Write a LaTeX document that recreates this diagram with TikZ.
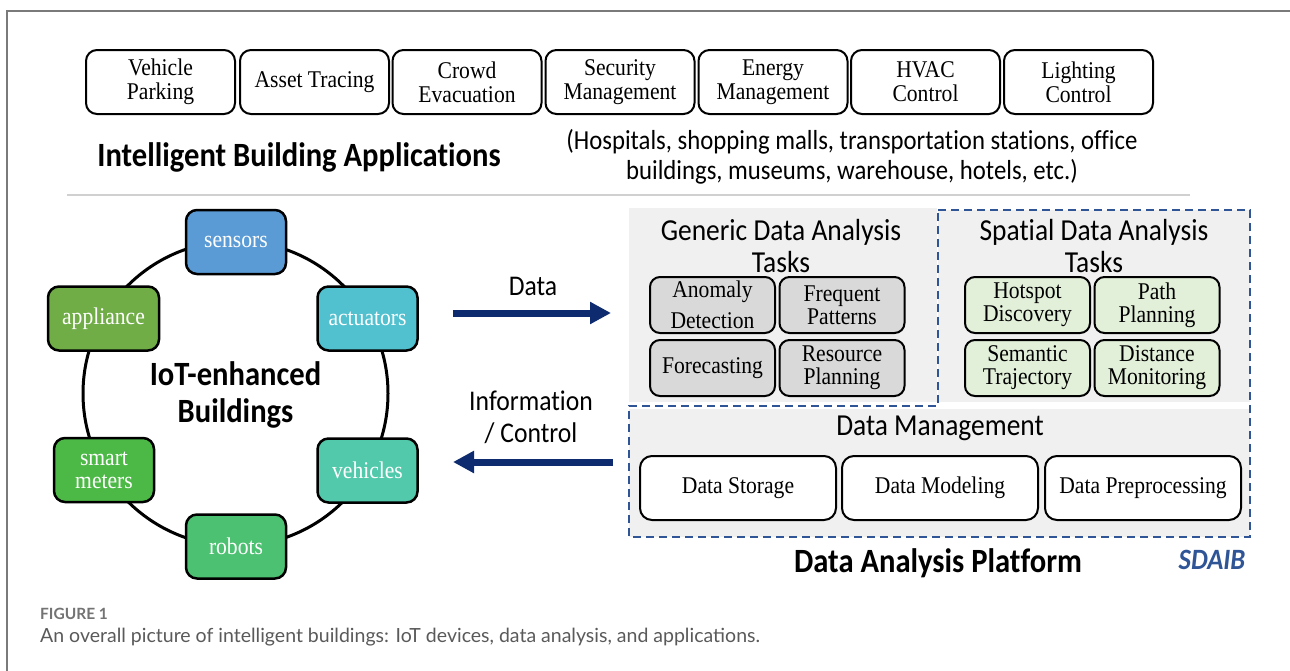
\documentclass[tikz,border=0pt]{standalone}
\usepackage{fontspec}
\setmainfont[FakeStretch=0.9]{Liberation Serif}
\newfontfamily\calib[Ligatures=NoCommon,FakeStretch=0.9]{Carlito}
\newfontfamily\capfont{Lato}
\usetikzlibrary{arrows.meta}

\definecolor{navy}{HTML}{0D2B6E}
\definecolor{dashblue}{HTML}{2F5597}
\definecolor{panel}{HTML}{F0F0F0}
\definecolor{taskgray}{HTML}{D9D9D9}
\definecolor{taskgreen}{HTML}{E2F0D9}
\definecolor{csensor}{HTML}{5B9BD5}
\definecolor{cactuator}{HTML}{52C1CF}
\definecolor{cvehicle}{HTML}{52C9AA}
\definecolor{crobot}{HTML}{4CC172}
\definecolor{csmart}{HTML}{4CB946}
\definecolor{cappliance}{HTML}{70AD47}
\definecolor{framegray}{HTML}{7A7A7A}
\definecolor{rulegray}{HTML}{D0D0D0}
\definecolor{captext}{HTML}{5A5A5A}

\tikzset{
  serif24/.style={font=\fontsize{24}{24}\selectfont},
  appbox/.style={draw, line width=2pt, rounded corners=11pt, fill=white,
    minimum width=149pt, minimum height=64pt, inner sep=0pt, align=center, serif24},
  devbox/.style={draw, line width=2.5pt, rounded corners=11pt, text=white,
    minimum width=100pt, minimum height=64pt, inner sep=0pt, align=center,
    font=\fontsize{24}{23}\selectfont},
  taskbox/.style={draw, line width=2pt, rounded corners=10pt,
    minimum width=125pt, minimum height=56pt, inner sep=0pt, align=center,
    font=\fontsize{24}{23}\selectfont},
  gtask/.style={taskbox, fill=taskgray},
  stask/.style={taskbox, fill=taskgreen},
  dmbox/.style={draw, line width=2pt, rounded corners=12pt, fill=white,
    minimum width=196pt, minimum height=64pt, inner sep=0pt, align=center, serif24},
  heading/.style={font=\calib\fontsize{30.5}{32}\selectfont, align=center, inner sep=0pt},
  bighead/.style={font=\calib\bfseries\fontsize{34}{37}\selectfont, align=center, inner sep=0pt},
  flowlabel/.style={font=\calib\fontsize{28.5}{32}\selectfont, align=center, inner sep=0pt},
  flow/.style={draw=navy, line width=7pt, -{Triangle[length=21pt,width=21pt]}},
  platformedge/.style={draw=dashblue, line width=2.5pt, dash pattern=on 8pt off 5pt},
}

\begin{document}
\begin{tikzpicture}[x=1pt,y=-1pt]
  \useasboundingbox (0,0) rectangle (1290,670);
  \fill[white] (0,0) rectangle (1290,670);

  % page frame
  \draw[framegray, line width=2pt] (1291,11) -- (7,11) -- (7,671);

  % application boxes
  \node[appbox] (parking)  at (160.5,82) {Vehicle\\Parking};
  \node[appbox] (asset)    at (314.5,82) {Asset Tracing};
  \node[appbox] (crowd)    at (467,82)   {Crowd\\Evacuation};
  \node[appbox] (security) at (620,82)   {Security\\Management};
  \node[appbox] (energy)   at (773,82)   {Energy\\Management};
  \node[appbox] (hvac)     at (925.5,82) {HVAC\\Control};
  \node[appbox] (lighting) at (1078.5,82){Lighting\\Control};

  \node[bighead] (apptitle) at (299,157) {Intelligent Building Applications};
  \node[font=\calib\fontsize{27.5}{30}\selectfont, align=center, inner sep=0pt] (venues) at (852,157)
    {(Hospitals, shopping malls, transportation stations, office\\buildings, museums, warehouse, hotels, etc.)};

  % separator
  \draw[rulegray, line width=2pt] (67,195) -- (1190,195);

  % IoT ring
  \coordinate (ringc) at (235.5,393.5);
  \draw[line width=3pt] (ringc) circle[radius=152.5pt];
  \node[devbox, fill=csensor]   (sensors)   at (236,242)   {sensors};
  \node[devbox, fill=cactuator] (actuators) at (367.5,318.5) {actuators};
  \node[devbox, fill=cvehicle]  (vehicles)  at (367.5,470.5) {vehicles};
  \node[devbox, fill=crobot]    (robots)    at (236,546.5)   {robots};
  \node[devbox, fill=csmart]    (smart)     at (104,470) {smart\\meters};
  \node[devbox, fill=cappliance, minimum width=111pt] (appliance) at (103.5,318.5) {appliance};
  \node[bighead] (iot) at (235.5,395) {IoT-enhanced\\Buildings};

  % data / control flows
  \coordinate (dataA) at (453,313);
  \coordinate (dataB) at (611,313);
  \draw[flow] (dataA) -- (dataB);
  \node[flowlabel] (datalbl) at (533,286) {Data};
  \coordinate (ctrlA) at (613,462);
  \coordinate (ctrlB) at (453,462);
  \draw[flow] (ctrlA) -- (ctrlB);
  \node[flowlabel] (ctrllbl) at (531,417) {Information\\/ Control};

  % platform panels
  \fill[panel] (629,208) rectangle (937,402);
  \fill[panel] (938,210) rectangle (1250,402);
  \fill[panel] (629,409) rectangle (1250,537);
  \draw[platformedge] (938,210) -- (1250,210) -- (1250,537) -- (629,537) -- (629,406) -- (938,406) -- cycle;

  \node[heading] (generic) at (781,246) {Generic Data Analysis\\Tasks};
  \node[heading] (spatial) at (1094,246) {Spatial Data Analysis\\Tasks};

  \node[gtask, font=\fontsize{24}{31}\selectfont] (anomaly) at (712.5,305) {Anomaly\\Detection};
  \node[gtask] (frequent) at (842,305)   {Frequent\\Patterns};
  \node[gtask] (forecast) at (712.5,368) {Forecasting};
  \node[gtask] (resource) at (842,368)   {Resource\\Planning};

  \node[stask] (hotspot)  at (1027.5,305) {Hotspot\\Discovery};
  \node[stask] (path)     at (1157,305)   {Path\\Planning};
  \node[stask] (semantic) at (1027.5,368) {Semantic\\Trajectory};
  \node[stask] (distance) at (1157,368)   {Distance\\Monitoring};

  \node[heading] (dm) at (940,428) {Data Management};
  \node[dmbox] (storage)  at (738,488)  {Data Storage};
  \node[dmbox] (modeling) at (940,488)  {Data Modeling};
  \node[dmbox] (prep)     at (1143,488) {Data Preprocessing};

  \node[bighead] (platform) at (938,563) {Data Analysis Platform};
  \node[font=\calib\bfseries\itshape\fontsize{29.5}{30}\selectfont, text=dashblue, inner sep=0pt] (sdaib) at (1212,560) {SDAIB};

  % caption
  \node[anchor=west, inner sep=0pt, font=\capfont\bfseries\fontsize{15.5}{18}\selectfont, text=captext!85] (figno) at (40,614) {FIGURE 1};
  \node[anchor=west, inner sep=0pt, font=\capfont\fontsize{19.5}{22}\selectfont, text=captext] (caption) at (40,637)
    {An overall picture of intelligent buildings: IoT devices, data analysis, and applications.};
\end{tikzpicture}
\end{document}
